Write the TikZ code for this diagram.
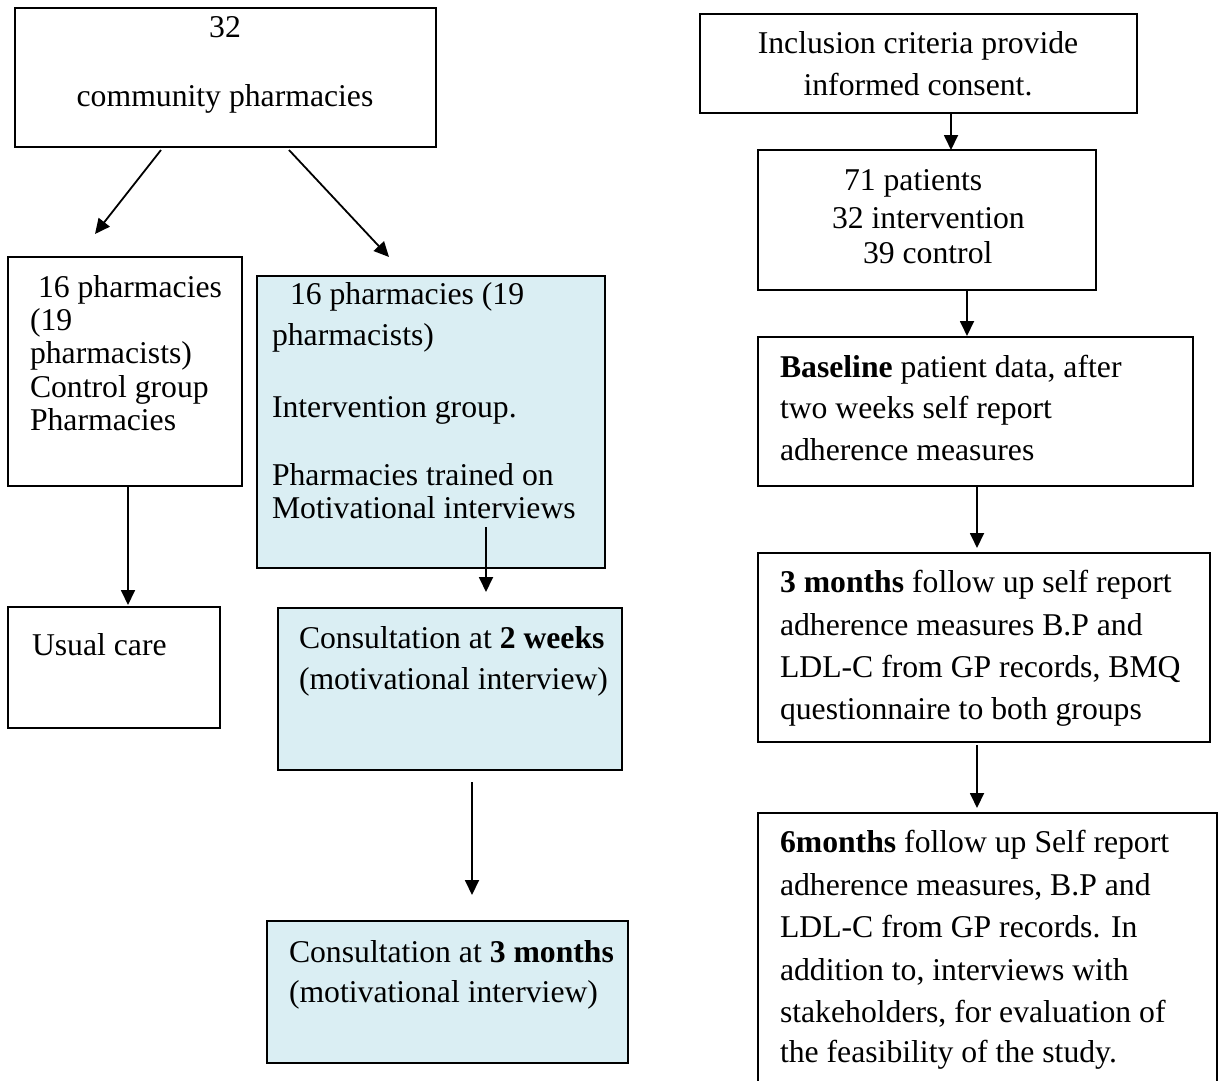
\documentclass[tikz,border=0pt]{standalone}
\usepackage{fontspec}
\setmainfont{Liberation Serif}
\usetikzlibrary{arrows.meta,calc}
\definecolor{paleaqua}{HTML}{DAEEF3}
\tikzset{
  box/.style={draw=black, line width=1.8pt, inner sep=0pt, outer sep=0pt, anchor=north west, rectangle},
  shaded/.style={box, fill=paleaqua},
  txt/.style={anchor=base west, inner sep=0pt, outer sep=0pt, font=\fontsize{31.7}{38}\selectfont},
  ctxt/.style={txt, anchor=base},
  flow/.style={line width=1.8pt, -{Triangle[length=15pt,width=14pt]}}
}
% rectangle of given corners: \boxat{style}{name}{x1}{y1}{x2}{y2}
\newcommand{\boxat}[6]{\node[#1, minimum width=#5-#3, minimum height=#6-#4] (#2) at (#3,#4) {};}
\begin{document}
\begin{tikzpicture}[x=1pt,y=-1pt]
\useasboundingbox (0,0) rectangle (1220,1080);
\clip (0,0) rectangle (1220,1080);

% ---------- left branch: pharmacies ----------
\boxat{box}{top}{15}{8}{436}{147}
\node[ctxt] (topa) at (225,37) {32};
\node[ctxt] (topb) at (225,106) {community pharmacies};

\boxat{box}{ctrl}{8}{257}{242}{486}
\node[txt] (ctrla) at (38,297) {16 pharmacies};
\node[txt] (ctrlb) at (30,330) {(19};
\node[txt] (ctrlc) at (30,363) {pharmacists)};
\node[txt] (ctrld) at (30,397) {Control group};
\node[txt] (ctrle) at (30,430) {Pharmacies};

\boxat{box}{usual}{8}{607}{220}{728}
\node[txt] (usuala) at (32,655) {Usual care};

\boxat{shaded}{interv}{257}{276}{605}{568}
\node[txt] (interva) at (290,304) {16 pharmacies (19};
\node[txt] (intervb) at (272,345) {pharmacists)};
\node[txt] (intervc) at (272,417) {Intervention group.};
\node[txt] (intervd) at (272,485) {Pharmacies trained on};
\node[txt] (interve) at (272,518) {Motivational interviews};

\boxat{shaded}{wk}{278}{608}{622}{770}
\node[txt] (wka) at (299,648) {Consultation at \textbf{2 weeks}};
\node[txt] (wkb) at (299,689) {(motivational interview)};

\boxat{shaded}{mth}{267}{921}{628}{1063}
\node[txt] (mtha) at (289,962) {Consultation at \textbf{3 months}};
\node[txt] (mthb) at (289,1002) {(motivational interview)};

% ---------- right branch: patients ----------
\boxat{box}{incl}{700}{14}{1137}{113}
\node[ctxt] (incla) at (918,53) {Inclusion criteria provide};
\node[ctxt] (inclb) at (918,95) {informed consent.};

\boxat{box}{pat}{758}{150}{1096}{290}
\node[txt] (pata) at (844,190) {71 patients};
\node[txt] (patb) at (832,228) {32 intervention};
\node[txt] (patc) at (863,263) {39 control};

\boxat{box}{base}{758}{337}{1193}{486}
\node[txt] (basea) at (780,377) {\textbf{Baseline} patient data, after};
\node[txt] (baseb) at (780,418) {two weeks self report};
\node[txt] (basec) at (780,460) {adherence measures};

\boxat{box}{fu3}{758}{553}{1210}{742}
\node[txt] (fu3a) at (780,592) {\textbf{3 months} follow up self report};
\node[txt] (fu3b) at (780,635) {adherence measures B.P and};
\node[txt] (fu3c) at (780,677) {LDL-C from GP records, BMQ};
\node[txt] (fu3d) at (780,719) {questionnaire to both groups};

\boxat{box}{fu6}{758}{813}{1217}{1100}
\node[txt] (fu6a) at (780,852) {\textbf{6months} follow up Self report};
\node[txt] (fu6b) at (780,895) {adherence measures, B.P and};
\node[txt] (fu6c) at (780,937) {LDL-C from GP records. In};
\node[txt] (fu6d) at (780,980) {addition to, interviews with};
\node[txt] (fu6e) at (780,1022) {stakeholders, for evaluation of};
\node[txt] (fu6f) at (780,1062) {the feasibility of the study.};

% ---------- connectors ----------
\coordinate (s1) at ($(top.south west)+(146,3)$);
\coordinate (e1) at ($(ctrl.north west)+(87,-23)$);
\coordinate (s2) at ($(top.south west)+(274,3)$);
\coordinate (e2) at ($(interv.north west)+(132,-19)$);
\draw[flow] (s1) -- (e1);
\draw[flow] (s2) -- (e2);

\coordinate (s3) at (ctrl.south west -| usual.south west);
\draw[flow] ($(ctrl.south west)+(120,0)$) -- ($(usual.north west)+(120,-2)$);
\draw[flow] ($(interv.north west)+(229,251)$) -- ($(wk.north west)+(208,-16)$);
\draw[flow] ($(wk.south west)+(194,12)$) -- ($(mth.north west)+(205,-26)$);

\draw[flow] ($(incl.south west)+(251,0)$) -- ($(pat.north west)+(193,0)$);
\draw[flow] ($(pat.south west)+(209,0)$) -- ($(base.north west)+(209,-1)$);
\draw[flow] ($(base.south west)+(219,0)$) -- ($(fu3.north west)+(219,-5)$);
\draw[flow] ($(fu3.south west)+(219,3)$) -- ($(fu6.north west)+(219,-5)$);
\end{tikzpicture}
\end{document}
